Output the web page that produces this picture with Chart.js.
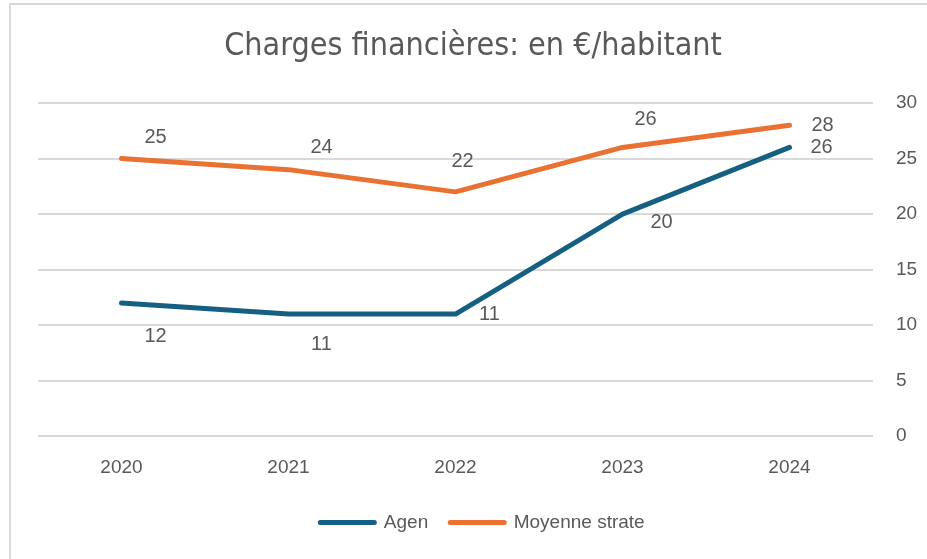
<!DOCTYPE html>
<html>
<head>
<meta charset="utf-8">
<script src="https://cdn.jsdelivr.net/npm/chart.js@4"></script>
<style>
  html, body { margin: 0; padding: 0; background: #fff; }
  #frame {
    position: absolute; left: 9px; top: 3px; width: 916px; height: 556px;
    border-top: 2px solid #d9d9d9; border-left: 2px solid #d9d9d9;
  }
  #wrap { position: absolute; left: 0; top: 0; width: 927px; height: 559px; }
</style>
</head>
<body>
<div id="frame"></div>
<div id="wrap"><canvas id="chart" width="927" height="559"></canvas></div>
<script>
// Data
const years = ['2020', '2021', '2022', '2023', '2024'];
const agen = [12, 11, 11, 20, 26];
const moyenneStrate = [25, 24, 22, 26, 28];
const yTicks = [0, 5, 10, 15, 20, 25, 30];
const titleText = 'Charges financières: en €/habitant';

const GREY = '#595959';
const BLUE = '#156082';
const ORANGE = '#E97132';

// Title drawn by hand so it stays centred over the whole frame, not the padded box
const chartTitle = {
    id: 'chartTitle',
    afterDraw(chart, args, opts) {
        const ctx = chart.ctx;
        ctx.save();
        ctx.font = '32px "Liberation Sans Narrow", "DejaVu Sans Condensed", "Liberation Sans", sans-serif';
        ctx.fillStyle = GREY;
        ctx.textAlign = 'center';
        ctx.textBaseline = 'middle';
        ctx.fillText(opts.text, opts.x, opts.y);
        ctx.restore();
    }
};

// Draw the value labels next to each point (offsets as placed in the original)
const valueLabels = {
    id: 'valueLabels',
    afterDatasetsDraw(chart, args, opts) {
        const ctx = chart.ctx;
        ctx.save();
        ctx.font = '20px "Liberation Sans", Arial, sans-serif';
        ctx.fillStyle = GREY;
        ctx.textAlign = 'center';
        ctx.textBaseline = 'middle';
        chart.data.datasets.forEach((ds, i) => {
            const meta = chart.getDatasetMeta(i);
            const offs = opts.offsets[i];
            meta.data.forEach((pt, j) => {
                ctx.fillText(String(ds.data[j]), pt.x + offs[j][0], pt.y + offs[j][1]);
            });
        });
        ctx.restore();
    }
};

const ctx = document.getElementById('chart').getContext('2d');
new Chart(ctx, {
    type: 'line',
    data: {
        labels: years,
        datasets: [
            {
                label: 'Agen',
                data: agen,
                borderColor: BLUE,
                backgroundColor: BLUE,
                borderWidth: 5,
                borderCapStyle: 'round',
                borderJoinStyle: 'round',
                pointRadius: 0,
                tension: 0
            },
            {
                label: 'Moyenne strate',
                data: moyenneStrate,
                borderColor: ORANGE,
                backgroundColor: ORANGE,
                borderWidth: 5,
                borderCapStyle: 'round',
                borderJoinStyle: 'round',
                pointRadius: 0,
                tension: 0
            }
        ]
    },
    options: {
        responsive: false,
        animation: false,
        layout: { padding: { left: 38, right: 0, top: 103, bottom: 17 } },
        scales: {
            x: {
                offset: true,
                grid: { display: false },
                border: { display: false },
                ticks: { color: GREY, font: { family: '"Liberation Sans", Arial, sans-serif', size: 19 }, padding: 12 }
            },
            y: {
                position: 'right',
                min: 0,
                max: 30,
                afterBuildTicks: (axis) => { axis.ticks = yTicks.map(v => ({ value: v })); },
                afterFit: (axis) => { axis.width = 54; },
                grid: { color: '#d9d9d9', lineWidth: 2, drawTicks: false },
                border: { display: false },
                ticks: { color: GREY, font: { family: '"Liberation Sans", Arial, sans-serif', size: 19 }, padding: 23, crossAlign: 'near' }
            }
        },
        plugins: {
            title: { display: false },
            chartTitle: { text: titleText, x: 473, y: 47 },
            legend: {
                position: 'bottom',
                labels: {
                    color: GREY,
                    font: { family: '"Liberation Sans", Arial, sans-serif', size: 19 },
                    boxWidth: 54,
                    boxHeight: 0,
                    padding: 22
                }
            },
            tooltip: { enabled: false },
            valueLabels: {
                offsets: [
                    [[34, 34], [33, 30], [34, 0], [39, 8], [32, 0]],
                    [[34, -21], [33, -22], [7, -30], [23, -28], [33, 0]]
                ]
            }
        }
    },
    plugins: [chartTitle, valueLabels]
});
</script>
</body>
</html>
